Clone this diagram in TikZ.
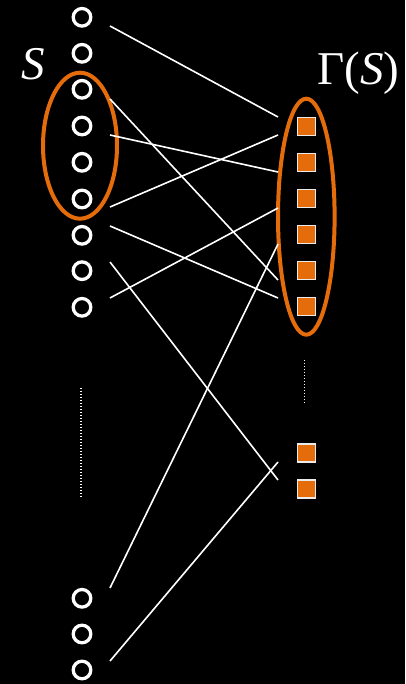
\documentclass[tikz,border=0pt]{standalone}
\usepackage{fontspec}
\setmainfont{Liberation Serif}
\usetikzlibrary{shapes.geometric}
\definecolor{accent}{RGB}{228,108,10}
\definecolor{boxedge}{RGB}{235,235,235}
\begin{document}
\begin{tikzpicture}[x=1pt,y=-1pt,
  vtx/.style={circle,draw=white,line width=3.3pt,minimum size=17.6pt,inner sep=0pt},
  sq/.style={rectangle,fill=accent,draw=boxedge,line width=1.5pt,minimum size=18pt,inner sep=0pt},
  grp/.style={ellipse,draw=accent,line width=4pt,inner sep=0pt},
  edge/.style={draw=white,line width=1.6pt},
  dots/.style={draw=white,line width=1.3pt,dash pattern=on 1.3pt off 1.7pt},
  lbl/.style={text=white,inner sep=0pt,font=\fontsize{47}{50}\selectfont}]
\fill[black] (0,0) rectangle (405,684);
\useasboundingbox (0,0) rectangle (405,684);

% left vertices
\foreach \i/\y in {1/17.3,2/53.3,3/89.3,4/126,5/162.3,6/199,7/235.3,8/270.7,9/307.3,10/598.3,11/634,12/670}
  \node[vtx] (c\i) at (82,\y) {};

% right vertices
\foreach \i/\y in {1/126.3,2/162.4,3/198.5,4/234.6,5/270.7,6/306.7,7/453,8/489}
  \node[sq] (s\i) at (306.3,\y) {};

% groups
\node[grp,minimum width=74pt,minimum height=146pt] (gS) at (80,145.7) {};
\node[grp,minimum width=56.6pt,minimum height=236pt] (gG) at (306.3,216.7) {};

% labels
\node[lbl,anchor=base] (lS) at (33,80) {\itshape S};
\node[lbl,anchor=base west] (lG) at (317,85) {Γ(\textit{S})};

% edge end points
\foreach \i/\ya/\yb in {1/26/117,2/99/280,3/135/172,4/207/135,5/226/298,6/262/480,7/298/208,8/588/244,9/661/462}{
  \coordinate (e\i a) at (110,\ya);
  \coordinate (e\i b) at (278,\yb);
}
\foreach \i in {1,...,9}
  \draw[edge] (e\i a) -- (e\i b);

% ellipsis dots
\coordinate (dl1) at (81,388);
\coordinate (dl2) at (81,497);
\coordinate (dr1) at (304.3,360);
\coordinate (dr2) at (304.3,404);
\draw[dots] (dl1) -- (dl2);
\draw[dots] (dr1) -- (dr2);
\end{tikzpicture}
\end{document}
